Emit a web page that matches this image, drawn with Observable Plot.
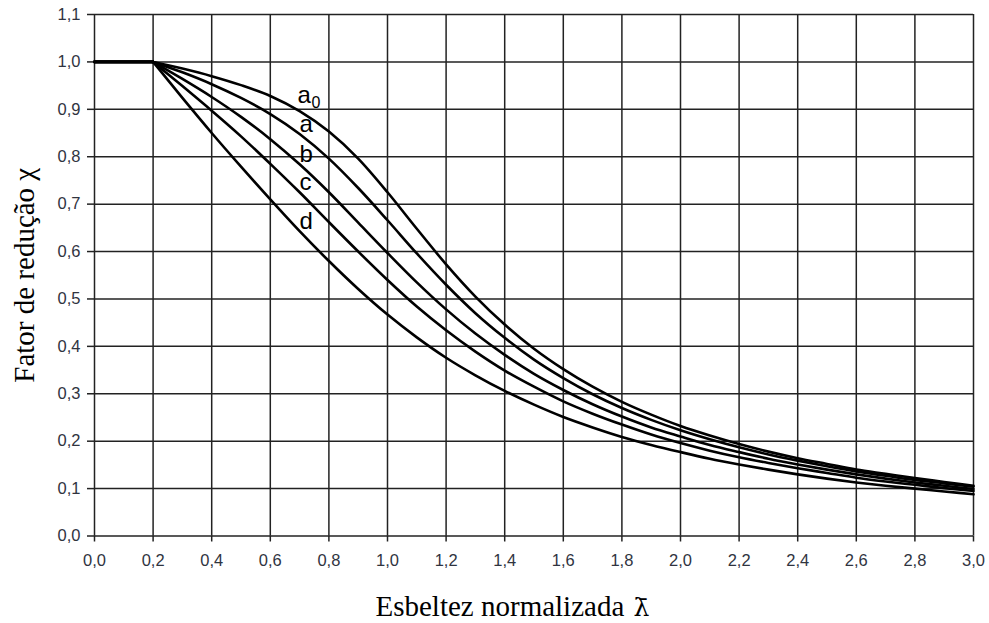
<!DOCTYPE html>
<html><head><meta charset="utf-8">
<script src="https://cdn.jsdelivr.net/npm/d3@7"></script>
<script src="https://cdn.jsdelivr.net/npm/@observablehq/plot@0.6"></script>
<style>body{margin:0;background:#fff}</style>
</head><body><div id="chart"></div>
<script>
// Normalized slenderness (x) and reduction factor chi for each buckling curve
const lambdas = [0,0.1,0.2,0.3,0.4,0.5,0.6,0.7,0.8,0.9,1.0,1.1,1.2,1.3,1.4,1.5,1.6,1.7,1.8,1.9,2.0,2.1,2.2,2.3,2.4,2.5,2.6,2.7,2.8,2.9,3.0];
const chiA0 = [1,1,1,0.986,0.970,0.951,0.928,0.896,0.853,0.796,0.725,0.648,0.573,0.505,0.446,0.395,0.352,0.315,0.283,0.256,0.232,0.212,0.194,0.178,0.164,0.152,0.140,0.131,0.122,0.114,0.106];
const chiA  = [1,1,1,0.978,0.953,0.924,0.890,0.848,0.796,0.734,0.666,0.596,0.530,0.470,0.418,0.372,0.333,0.299,0.270,0.245,0.223,0.204,0.187,0.172,0.159,0.147,0.136,0.127,0.118,0.111,0.104];
const chiB  = [1,1,1,0.964,0.926,0.884,0.837,0.784,0.725,0.661,0.597,0.535,0.478,0.427,0.382,0.342,0.308,0.278,0.252,0.229,0.210,0.192,0.177,0.163,0.151,0.140,0.130,0.121,0.113,0.106,0.099];
const chiC  = [1,1,1,0.949,0.897,0.843,0.785,0.725,0.662,0.600,0.540,0.484,0.434,0.389,0.349,0.315,0.284,0.258,0.235,0.214,0.196,0.180,0.166,0.154,0.143,0.133,0.123,0.115,0.108,0.101,0.095];
const chiD  = [1,1,1,0.924,0.850,0.779,0.710,0.643,0.580,0.521,0.467,0.419,0.376,0.339,0.306,0.277,0.251,0.229,0.209,0.192,0.177,0.163,0.151,0.140,0.130,0.121,0.113,0.106,0.100,0.094,0.088];
const curveNames = ["a0","a","b","c","d"];
const xTicks = [0,0.2,0.4,0.6,0.8,1.0,1.2,1.4,1.6,1.8,2.0,2.2,2.4,2.6,2.8,3.0];
const yTicks = [0,0.1,0.2,0.3,0.4,0.5,0.6,0.7,0.8,0.9,1.0,1.1];
const plateauEnd = 0.2;
const labelLambda = 0.7;
const xTitle = "Esbeltez normalizada";
const xSymbol = "\u03BB\u0304";
const yTitle = "Fator de redução χ";

const series = [chiA0, chiA, chiB, chiC, chiD];
const rows = curveNames.flatMap((name, i) => lambdas.map((l, j) => ({curve: name, lambda: l, chi: series[i][j]})));
const fmt = v => d3.format(".1f")(v).replace(".", ",");
const tickColor = "#30343f";
const sans = "'Liberation Sans', Arial, sans-serif";
const serif = "'Liberation Serif', 'Times New Roman', serif";

const plot = Plot.plot({
  width: 989, height: 623,
  marginLeft: 94, marginRight: 16, marginTop: 14, marginBottom: 87.5,
  x: {domain: [0, 3]},
  y: {domain: [0, 1.1]},
  style: {fontFamily: sans, background: "#fff", color: "#000"},
  marks: [
    Plot.gridX(xTicks, {stroke: "#222", strokeOpacity: 1, strokeWidth: 1.5}),
    Plot.gridY(yTicks, {stroke: "#222", strokeOpacity: 1, strokeWidth: 1.5}),
    Plot.axisX(xTicks, {tickSize: 6, tickPadding: 12, tickFormat: fmt, fontSize: 16.5, fill: tickColor, stroke: "#222", strokeWidth: 1.5, label: null}),
    Plot.axisY(yTicks, {tickSize: 7, tickPadding: 7, tickFormat: fmt, fontSize: 16.5, fill: tickColor, stroke: "#222", strokeWidth: 1.5, label: null}),
    Plot.line(rows.filter(d => d.lambda <= plateauEnd), {x: "lambda", y: "chi", z: "curve", stroke: "#000", strokeWidth: 2.6}),
    Plot.line(rows.filter(d => d.lambda >= plateauEnd), {x: "lambda", y: "chi", z: "curve", stroke: "#000", strokeWidth: 2.6, curve: "monotone-x"}),
    Plot.text(rows.filter(d => d.lambda === labelLambda && d.curve !== "a0"), {x: "lambda", y: "chi", text: "curve", textAnchor: "start", lineAnchor: "bottom", dx: 0, dy: -2, fontSize: 24, fill: "#000"}),
    Plot.text(rows.filter(d => d.lambda === labelLambda && d.curve === "a0"), {x: "lambda", y: "chi", text: d => d.curve[0], textAnchor: "start", lineAnchor: "bottom", dx: -2, dy: -8, fontSize: 24, fill: "#000"}),
    Plot.text(rows.filter(d => d.lambda === labelLambda && d.curve === "a0"), {x: "lambda", y: "chi", text: d => d.curve[1], textAnchor: "start", lineAnchor: "bottom", dx: 12, dy: -3, fontSize: 16, fill: "#000"}),
    Plot.text([xTitle], {frameAnchor: "bottom-left", text: d => d, textAnchor: "start", dx: 281, dy: 80, lineAnchor: "bottom", fontFamily: serif, fontSize: 29, fill: "#000"}),
    Plot.text([xSymbol], {frameAnchor: "bottom-left", text: d => d, textAnchor: "start", dx: 539, dy: 80, lineAnchor: "bottom", fontFamily: "'DejaVu Serif', serif", fontSize: 25, fill: "#000"}),
    Plot.text([yTitle], {frameAnchor: "left", text: d => d, rotate: -90, textAnchor: "middle", dx: -61, lineAnchor: "bottom", fontFamily: serif, fontSize: 29, fill: "#000"})
  ]
});
document.getElementById("chart").appendChild(plot);
</script>
</body></html>
